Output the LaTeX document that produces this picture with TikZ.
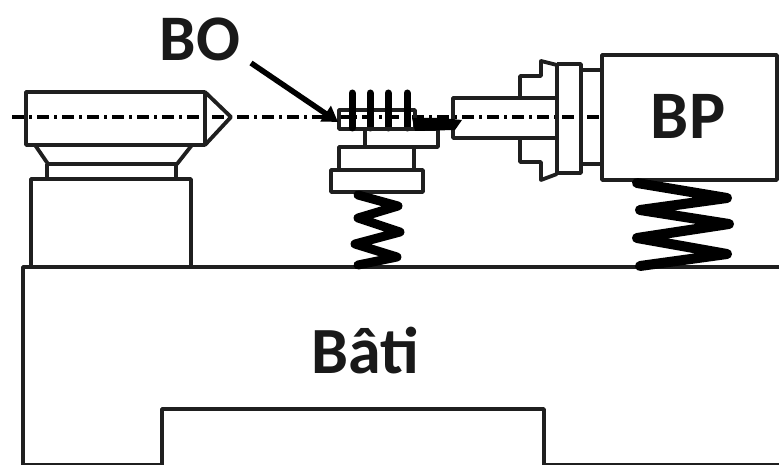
\documentclass[tikz,border=0pt]{standalone}
\usepackage{fontspec}
\setmainfont{Carlito}
\usetikzlibrary{arrows.meta}
\tikzset{
  outline/.style={draw=black!88,line width=3.8pt,line join=round},
  thinline/.style={draw=black!88,line width=2pt},
  axisline/.style={draw=black,line width=3.4pt,dash pattern=on 12pt off 5pt on 3pt off 5pt},
  finger/.style={draw=black,line width=7pt,line cap=round},
  spring/.style={draw=black,line width=#1,line join=round,line cap=round},
  label/.style={font=\fontsize{#1}{#1}\selectfont\bfseries,inner sep=0pt,text=black!90},
}
\begin{document}
\begin{tikzpicture}[x=1pt,y=-1pt]
\useasboundingbox (0,0) rectangle (779,465);
\fill[white] (0,0) rectangle (779,465);
% axis
\coordinate (axA) at (12,117);
\coordinate (axB) at (640,117);
\coordinate (axC) at (735,117);
\coordinate (axD) at (779,117);
\draw[axisline] (axA) -- (axB);
\draw[axisline] (axC) -- (axD);
% tailstock
\draw[outline] (26,92) rectangle (205,145);
\draw[outline] (205,92) -- (231,117) -- (205,145);
\draw[outline] (35,145) -- (48,164) -- (177,164) -- (192,145);
\draw[outline] (47,164) -- (47,179);
\draw[outline] (176,164) -- (176,179);
\draw[outline] (31,267) -- (31,179) -- (191,179) -- (191,267);
% frame
\draw[outline] (23,465) -- (23,267) -- (779,267);
\draw[outline] (162,465) -- (162,409) -- (544,409) -- (544,465);
\draw[thinline] (23,464) -- (162,464);
\draw[thinline] (544,464) -- (779,464);
% part
\draw[outline] (339,110) rectangle (415,129);
\foreach \x in {352,370,388,407} \draw[finger] (\x,93) -- (\x,128);
\draw[outline] (365,129) rectangle (438,147);
\draw[outline] (339,147) rectangle (414,170);
\draw[outline] (331,170) rectangle (423,192);
\draw[spring=9pt] (358,195) -- (398,206) -- (358,218) -- (400,232) -- (355,244) -- (397,257) -- (358,265);
% tool
\draw[outline] (556,98) -- (453,98) -- (453,138) -- (556,138);
\fill[black] (412,118) -- (440,118) -- (462,120) -- (455,130) -- (415,131) -- cycle;
% chuck
\draw[outline] (520,98) -- (520,76) -- (541,76) -- (541,61) -- (557,65);
\draw[outline] (520,138) -- (520,162) -- (541,162) -- (541,180) -- (557,174);
\draw[outline] (557,63) -- (557,174);
\draw[outline] (557,64) -- (581,64) -- (581,173) -- (557,173);
\draw[outline] (581,70) -- (602,70);
\draw[outline] (581,164) -- (602,164);
% headstock
\draw[outline,fill=white] (602,55) rectangle (777,180);
\node[label=68pt] (bp) at (688,116) {BP};
\draw[spring=10pt] (637,183) -- (727,198) -- (640,210) -- (729,224) -- (637,238) -- (727,254) -- (640,266);
% labels
\node[label=65pt] (bo) at (200,39) {BO};
\node[label=66pt] (bati) at (365,351) {Bâti};
\coordinate (arrowStart) at (251,63);
\coordinate (arrowEnd) at (338,122);
\draw[line width=5.5pt,-{Triangle[length=15pt,width=18pt]}] (arrowStart) -- (arrowEnd);
\end{tikzpicture}
\end{document}
